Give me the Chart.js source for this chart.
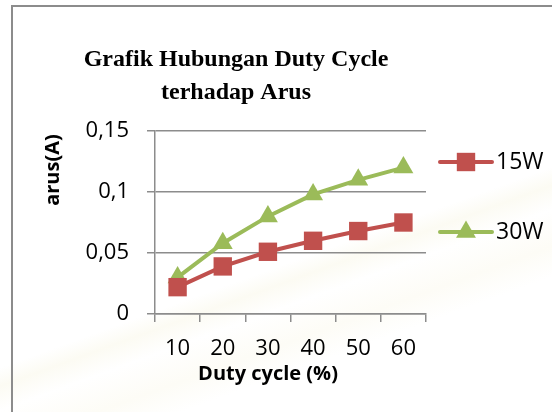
<!DOCTYPE html>
<html>
<head>
<meta charset="utf-8">
<script src="https://cdn.jsdelivr.net/npm/chart.js@4.4.0/dist/chart.umd.min.js"></script>
<style>
  html, body { margin: 0; padding: 0; background: #fff; }
  #wrap { position: relative; width: 552px; height: 412px; overflow: hidden;
    background: linear-gradient(160deg, #fff 0%, #fff 60%, #fcfbf3 63%, #fff 67%, #fdfcf6 73%, #fff 78%); }
  #frame { position: absolute; left: 11px; top: 5px; width: 560px; height: 420px;
    border-left: 2px solid #8c8c8c; border-top: 2px solid #8c8c8c; box-sizing: border-box; }
  canvas { position: absolute; left: 0; top: 0; }
</style>
</head>
<body>
<div id="wrap">
  <div id="frame"></div>
  <canvas id="chart" width="552" height="412"></canvas>
</div>
<script>
// --- DATA ---
const dutyCycles = ['10', '20', '30', '40', '50', '60'];
const arus15W = [0.022, 0.039, 0.051, 0.060, 0.068, 0.075];
const arus30W = [0.030, 0.058, 0.080, 0.098, 0.110, 0.120];
const seriesNames = ['15W', '30W'];
const titleLines = ['Grafik Hubungan Duty Cycle', 'terhadap Arus'];
const yTitle = 'arus(A)';
const xTitle = 'Duty cycle (%)';

const red = '#C0504D';
const green = '#9BBB59';

// draws title, axis titles and the legend at their places
const decorPlugin = {
    id: 'decor',
    afterDraw(chart) {
        const c = chart.ctx;
        c.save();
        c.fillStyle = '#000';
        c.textAlign = 'center';
        c.textBaseline = 'middle';
        c.font = 'bold 24px "Liberation Serif", "Times New Roman", serif';
        c.fillText(titleLines[0], 236, 60);
        c.fillText(titleLines[1], 236, 93);

        c.font = 'bold 20px "Open Sans", sans-serif';
        c.fillText(xTitle, 268, 374);
        c.save();
        c.translate(53, 170);
        c.rotate(-Math.PI / 2);
        c.fillText(yTitle, 0, 0);
        c.restore();

        // legend
        const items = [
            { y: 162, color: red, style: 'rect', r: 13 },
            { y: 232, color: green, style: 'triangle', r: 11.5 }
        ];
        items.forEach((it, i) => {
            c.strokeStyle = it.color;
            c.lineWidth = 4;
            c.lineCap = 'round';
            c.beginPath();
            c.moveTo(440, it.y);
            c.lineTo(492, it.y);
            c.stroke();
            c.fillStyle = it.color;
            Chart.helpers.drawPoint(c, { pointStyle: it.style, radius: it.r, borderWidth: 0 }, 466, it.y);
            c.fillStyle = '#000';
            c.textAlign = 'left';
            c.font = '23px "Open Sans", sans-serif';
            c.fillText(seriesNames[i], 496, it.y);
        });
        c.restore();
    }
};

new Chart(document.getElementById('chart'), {
    type: 'line',
    data: {
        labels: dutyCycles,
        datasets: [
            {
                label: seriesNames[0], data: arus15W,
                borderColor: red, backgroundColor: red, borderWidth: 4,
                pointStyle: 'rect', pointRadius: 13, pointBorderWidth: 0,
                tension: 0
            },
            {
                label: seriesNames[1], data: arus30W,
                borderColor: green, backgroundColor: green, borderWidth: 4,
                pointStyle: 'triangle', pointRadius: 11.5, pointBorderWidth: 0,
                tension: 0
            }
        ]
    },
    options: {
        responsive: false,
        animation: false,
        layout: { padding: { top: 131, left: 0, right: 126, bottom: 0 } },
        plugins: { legend: { display: false }, title: { display: false }, tooltip: { enabled: false } },
        scales: {
            x: {
                offset: true,
                grid: { offset: true, drawOnChartArea: false, drawTicks: true, tickLength: 8, color: '#8c8c8c', lineWidth: 1.5 },
                border: { color: '#8c8c8c', width: 1.5 },
                ticks: { color: '#000', font: { family: 'Open Sans', size: 22 }, padding: 14, maxRotation: 0 },
                afterFit(scale) { scale.height = 412 - 314; }
            },
            y: {
                min: 0, max: 0.15,
                grid: { color: '#8c8c8c', lineWidth: 1.5, tickLength: 8 },
                border: { color: '#8c8c8c', width: 1.5 },
                ticks: {
                    stepSize: 0.05, color: '#000', padding: 18,
                    font: { family: 'Open Sans', size: 22 },
                    callback: v => String(+v.toFixed(2)).replace('.', ',')
                },
                afterFit(scale) { scale.width = 155; }
            }
        }
    },
    plugins: [decorPlugin]
});
</script>
</body>
</html>
